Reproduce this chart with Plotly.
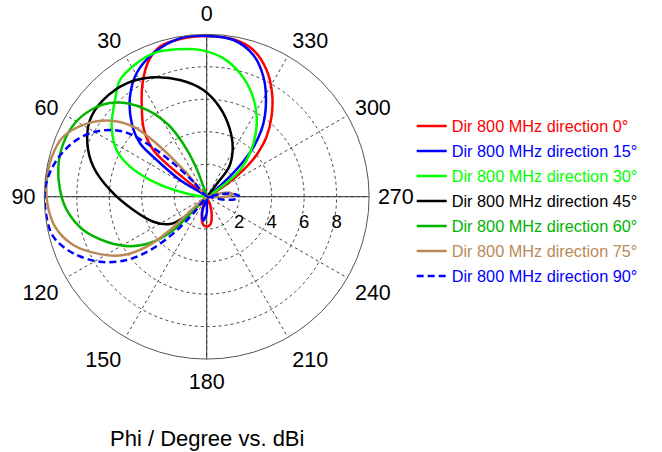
import plotly.graph_objects as go

# ---- data ----
angle_ticks = [0, 30, 60, 90, 120, 150, 180, 210, 240, 270, 300, 330]
radial_ticks = [2, 4, 6, 8]

names = ["Dir 800 MHz direction 0°", "Dir 800 MHz direction 15°", "Dir 800 MHz direction 30°",
         "Dir 800 MHz direction 45°", "Dir 800 MHz direction 60°", "Dir 800 MHz direction 75°",
         "Dir 800 MHz direction 90°"]
colors = ["#ff0000", "#0000ff", "#00ff00", "#000000", "#00b400", "#b98a58", "#0000ff"]
dashes = ["solid", "solid", "solid", "solid", "solid", "solid", "7px,4px"]

theta_0 = [-66, -62, -58, -54, -50, -45, -38.7, -32.2, -25.3, -17.6, -9.6, 0, 8.4, 17.3, 23.4, 29.5, 35.8,
           43.2, 48.8, 50.7, 51.3, 54, 150, 158, 165, 172, 180, 188, 195, 202, 210]
r_0 = [0.1, 0.5, 1.5, 2.8, 4.0, 5.2, 6.4, 7.55, 8.63, 9.48, 9.83, 9.9, 9.86, 9.68, 9.06, 8.02, 6.84,
       5.64, 4.37, 2.92, 1.31, 0.1, 0.1, 0.6, 1.2, 1.7, 1.85, 1.7, 1.2, 0.6, 0.1]

theta_15 = [-56, -52, -49, -46, -43, -37.7, -31.5, -25.3, -18.2, -9.7, 0, 9.6, 20.4, 29.6, 37.5, 45.6,
            51.3, 53.7, 58, 62, 158, 164, 172, 180, 186]
r_15 = [0.1, 0.8, 1.9, 3.2, 4.3, 5.71, 6.99, 8.17, 9.19, 9.79, 9.9, 9.89, 9.42, 8.74, 7.76, 6.46,
        5.26, 3.82, 1.94, 0.1, 0.1, 1.0, 1.5, 1.0, 0.1]

theta_30 = [-58, -51.3, -41.2, -32, -23.5, -15.1, -6.9, 2.6, 11.5, 20.4, 27.7, 36.6, 43.5, 53.6, 62.6,
            68.6, 74.3, 79.4, 84]
r_30 = [0.1, 2.63, 4.37, 5.81, 6.94, 7.87, 8.58, 9.05, 9.26, 9.42, 9.28, 8.95, 8.2, 7.27, 6.25,
        5.07, 3.41, 1.67, 0.1]

theta_45 = [-42, -38, -37, -28.1, -18.4, -8.4, 1.8, 12.9, 24.1, 35.2, 46.9, 56.7, 65.9, 75.2, 86,
            100.3, 115.1, 126.7, 133, 137, 140]
r_45 = [0.1, 1.0, 2.3, 3.4, 4.45, 5.55, 6.57, 7.37, 8.05, 8.54, 8.72, 8.6, 8.05, 7.22, 5.97,
        4.59, 3.63, 2.82, 1.74, 0.6, 0.1]

theta_60 = [16, 18, 20, 24, 28, 34, 40, 46, 53, 61, 70, 78.6, 87.4, 95.4, 105.1, 114.2, 122.8, 130.2,
            135, 136, 138]
r_60 = [0.1, 0.6, 2.0, 3.6, 5.0, 6.4, 7.5, 8.3, 8.9, 9.3, 9.42, 9.32, 9.04, 8.66, 7.87, 6.76, 5.62, 4.3,
        2.9, 1.16, 0.1]

theta_75 = [38, 40.6, 43, 46.3, 51.8, 59.8, 67.3, 75.7, 84.1, 92.4, 101.2, 109.9, 118.3, 125, 129.8,
            132.3, 131, 133, 264, 268, 273, 276, 280, 284, 288]
r_75 = [0.1, 1.89, 4.21, 6.24, 7.57, 8.79, 9.57, 9.85, 9.9, 9.82, 9.52, 8.74, 7.46, 6.27, 4.81,
        3.05, 1.31, 0.1, 0.1, 0.9, 1.5, 1.6, 1.45, 0.8, 0.1]

theta_90 = [40, 41.6, 45, 48.4, 52, 58.3, 66.4, 76.3, 86.5, 95.9, 104.6, 113, 121.4, 128.4, 133.3,
            137.7, 141.3, 145, 255, 260, 265, 270, 275, 280, 285]
r_90 = [0.1, 1.24, 2.9, 4.94, 6.51, 7.73, 8.74, 9.51, 9.95, 9.95, 9.76, 8.92, 7.69, 6.28, 4.79,
        3.05, 1.31, 0.1, 0.1, 1.0, 1.75, 2.0, 1.75, 1.0, 0.1]

thetas = [theta_0, theta_15, theta_30, theta_45, theta_60, theta_75, theta_90]
rs = [r_0, r_15, r_30, r_45, r_60, r_75, r_90]

R_MAX = 10
FONT = "Liberation Sans"
GRID = "#444444"

fig = go.Figure()

# solid cross lines (0-180 and 90-270)
for a, b in [(0, 180), (90, 270)]:
    fig.add_trace(go.Scatterpolar(r=[R_MAX, 0, R_MAX], theta=[a, a, b], mode="lines",
                                  line=dict(color="#333333", width=1), showlegend=False,
                                  hoverinfo="skip"))

for i, (th, r, nm, c, d) in enumerate(zip(thetas, rs, names, colors, dashes)):
    th_c = th + [th[0]]
    r_c = r + [r[0]]
    fig.add_trace(go.Scatterpolar(
        r=r_c, theta=th_c, mode="lines", legendgroup=f"g{i}",
        line=dict(color=c, width=2.5, dash=d, shape="spline", smoothing=1),
        name=f'<span style="color:{c}">{nm}</span>'))

fig.update_layout(
    width=662, height=452,
    margin=dict(l=0, r=0, t=0, b=0),
    paper_bgcolor="white",
    font=dict(family=FONT, color="black"),
    polar=dict(
        domain=dict(x=[44.3 / 662, 369.1 / 662], y=[92.9 / 452, 417.7 / 452]),
        bgcolor="white",
        angularaxis=dict(rotation=90, direction="counterclockwise",
                         tickmode="array", tickvals=angle_ticks,
                         ticktext=[str(v) for v in angle_ticks],
                         showgrid=True, gridcolor=GRID, griddash="dot", gridwidth=1,
                         showline=True, linecolor="#555555", linewidth=1,
                         ticks="outside", ticklen=4, tickcolor="rgba(0,0,0,0)",
                         tickfont=dict(size=21.5, family=FONT, color="black")),
        radialaxis=dict(range=[0, R_MAX], tickmode="array", tickvals=radial_ticks,
                        showgrid=True, gridcolor=GRID, griddash="dot", gridwidth=1,
                        showline=False, angle=0, side="clockwise",
                        ticks="outside", ticklen=9, tickcolor="rgba(0,0,0,0)",
                        tickfont=dict(size=18.5, family=FONT, color="black")),
    ),
    legend=dict(x=411.7 / 662, y=1 - 109 / 452, xanchor="left", yanchor="top",
                font=dict(size=16.3, family=FONT), bgcolor="rgba(0,0,0,0)",
                tracegroupgap=0.8),
    annotations=[dict(text="Phi / Degree vs. dBi", x=206.7 / 662, y=1 - 438 / 452,
                      xref="paper", yref="paper", showarrow=False,
                      xanchor="center", yanchor="middle",
                      font=dict(size=22, family=FONT, color="black"))],
)

fig.write_html("out.html", config={"displayModeBar": False},
               post_script="document.body.style.margin='0px';")
